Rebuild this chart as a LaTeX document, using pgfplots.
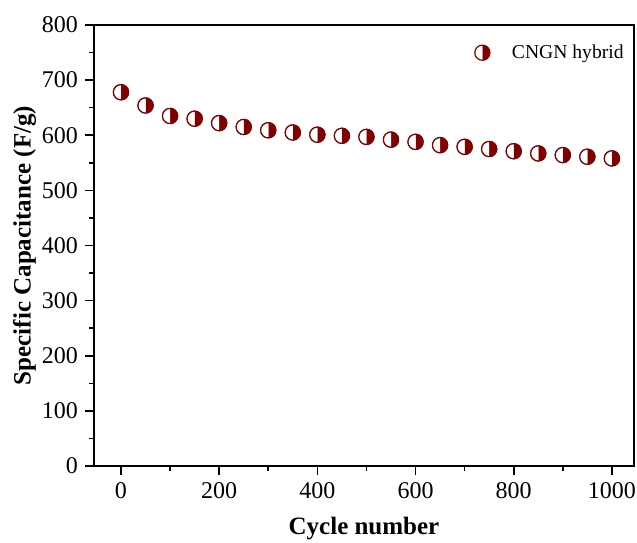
\documentclass[border=0pt]{standalone}
\usepackage{pgfplots}
\pgfplotsset{compat=1.18}
\usepackage{fontspec}
\setmainfont{Liberation Serif}
\definecolor{darkred}{RGB}{128,0,0}

\begin{document}
\begin{tikzpicture}
\begin{axis}[
    name=ax,
    scale only axis,
    width=270pt, height=220.5pt,
    xmin=-55, xmax=1045,
    ymin=0, ymax=800,
    xtick={0,200,400,600,800,1000},
    ytick={0,100,200,300,400,500,600,700,800},
    minor x tick num=1,
    minor y tick num=1,
    tick align=outside,
    tick pos=left,
    major tick length=4.5pt,
    minor tick length=2.5pt,
    axis line style={line width=1pt},
    every tick/.style={line width=0.8pt, black},
    ticklabel style={font=\fontsize{12}{14}\selectfont},
    /pgf/number format/assume math mode=true,
    /pgf/number format/1000 sep={},
    xlabel={\textbf{Cycle number}},
    ylabel={\textbf{Specific Capacitance (F/g)}},
    label style={font=\fontsize{12.5}{15}\selectfont},
    xlabel style={yshift=-2.5pt},
    ylabel style={yshift=-4pt},
    legend style={draw=none, fill=none, at={(1.0,0.975)}, anchor=north east,
        font=\fontsize{9.8}{12}\selectfont,
        /tikz/every odd column/.append style={column sep=9pt}},
    legend cell align=left,
]
\addplot[only marks, mark=*, mark size=3.8pt,
    mark options={draw=darkred, fill=white, line width=0.6pt}, forget plot]
coordinates {
(0,678)(50,654)(100,635)(150,630)(200,622)(250,615)(300,609)(350,605)
(400,601)(450,599)(500,597)(550,592)(600,588)(650,582)(700,579)
(750,575)(800,571)(850,567)(900,564)(950,561)(1000,558)
};
\addplot[only marks, mark=halfcircle*, mark size=3.8pt,
    mark options={draw=darkred, fill=darkred, line width=0.6pt, rotate=-90}]
coordinates {
(0,678)(50,654)(100,635)(150,630)(200,622)(250,615)(300,609)(350,605)
(400,601)(450,599)(500,597)(550,592)(600,588)(650,582)(700,579)
(750,575)(800,571)(850,567)(900,564)(950,561)(1000,558)
};
\addlegendentry{CNGN hybrid}
\end{axis}
\pgfresetboundingbox
\path[use as bounding box] ([shift={(-47pt,-38.5pt)}]ax.south west)
    rectangle ([shift={(1.5pt,12.5pt)}]ax.north east);
\end{tikzpicture}
\end{document}
